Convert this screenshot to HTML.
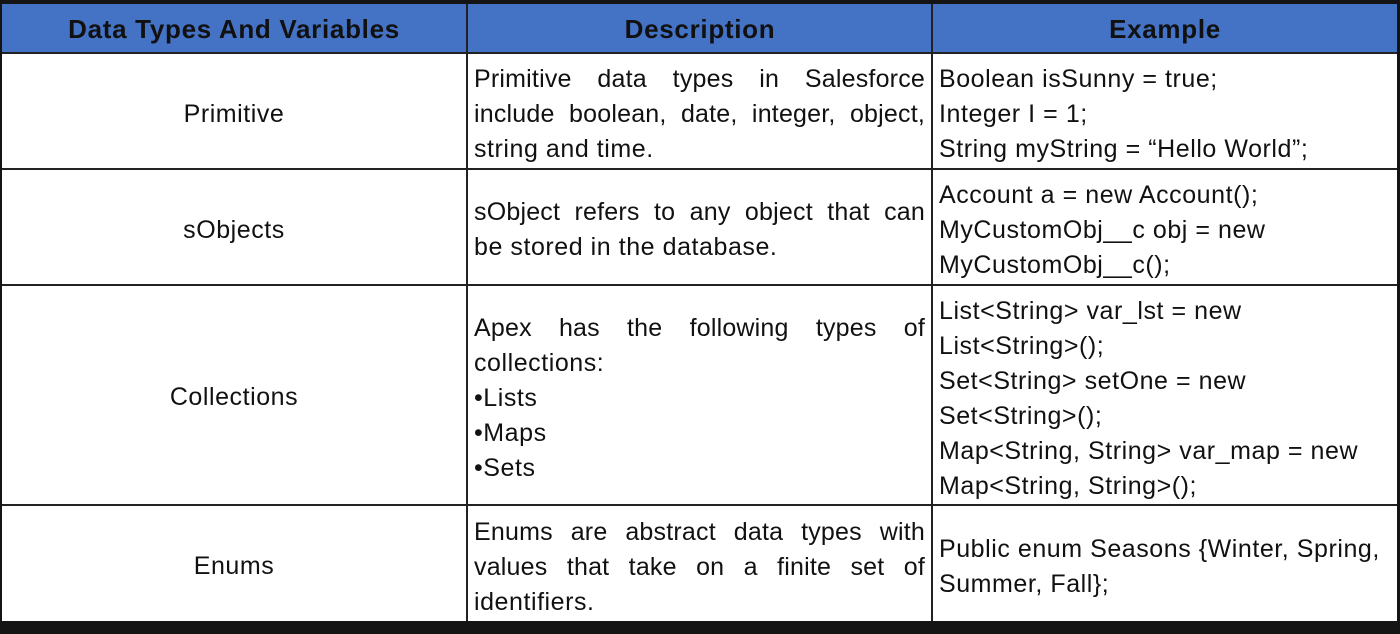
<!DOCTYPE html>
<html><head><meta charset="utf-8"><style>
*{margin:0;padding:0;box-sizing:border-box}
body{width:1400px;height:634px;background:#141414;position:relative;overflow:hidden;font-family:"Liberation Sans",Arial,sans-serif;color:#111}
#t{position:absolute;left:2px;top:4px;width:1395px;height:617px;background:#fff}
.hd{position:absolute;left:0;top:0;width:1395px;height:49px;background:#4472c4}
.h{position:absolute;top:1px;height:49px;line-height:49px;text-align:center;font-weight:bold;font-size:26px;letter-spacing:0.7px}
.hl{position:absolute;left:0;width:1395px;height:2px;background:#222}
.vl{position:absolute;top:0;width:2px;height:617px;background:#222}
.l{position:absolute;font-size:25px;line-height:35px;white-space:nowrap;letter-spacing:0.55px;margin-top:2px}
.c{text-align:center}
.j{text-align:justify;text-align-last:justify;letter-spacing:0.2px}
</style></head><body>
<div id="t">
<div class="hd"></div>
<div class="h" style="left:0;width:464px">Data Types And Variables</div>
<div class="h" style="left:466px;width:464px">Description</div>
<div class="h" style="left:931px;width:464px">Example</div>
<div class="hl" style="top:48px"></div>
<div class="hl" style="top:164px"></div>
<div class="hl" style="top:280px"></div>
<div class="hl" style="top:500px"></div>
<div class="vl" style="left:464px"></div>
<div class="vl" style="left:929px"></div>

<div class="l c" style="left:0;width:464px;top:91px">Primitive</div>
<div class="l c" style="left:0;width:464px;top:207px">sObjects</div>
<div class="l c" style="left:0;width:464px;top:374px">Collections</div>
<div class="l c" style="left:0;width:464px;top:543px">Enums</div>

<div class="l j" style="left:472px;width:451px;top:56px">Primitive data types in Salesforce</div>
<div class="l j" style="left:472px;width:451px;top:91px">include boolean, date, integer, object,</div>
<div class="l" style="left:472px;top:126px">string and time.</div>

<div class="l j" style="left:472px;width:451px;top:189px">sObject refers to any object that can</div>
<div class="l" style="left:472px;top:224px">be stored in the database.</div>

<div class="l j" style="left:472px;width:451px;top:305px">Apex has the following types of</div>
<div class="l" style="left:472px;top:340px">collections:</div>
<div class="l" style="left:472px;top:375px">•Lists</div>
<div class="l" style="left:472px;top:410px">•Maps</div>
<div class="l" style="left:472px;top:445px">•Sets</div>

<div class="l j" style="left:472px;width:451px;top:509px">Enums are abstract data types with</div>
<div class="l j" style="left:472px;width:451px;top:544px">values that take on a finite set of</div>
<div class="l" style="left:472px;top:579px">identifiers.</div>

<div class="l" style="left:937px;top:56px">Boolean isSunny = true;</div>
<div class="l" style="left:937px;top:91px">Integer I = 1;</div>
<div class="l" style="left:937px;top:126px">String myString = “Hello World”;</div>

<div class="l" style="left:937px;top:172px">Account a = new Account();</div>
<div class="l" style="left:937px;top:207px">MyCustomObj__c obj = new</div>
<div class="l" style="left:937px;top:242px">MyCustomObj__c();</div>

<div class="l" style="left:937px;top:288px">List&lt;String&gt; var_lst = new</div>
<div class="l" style="left:937px;top:323px">List&lt;String&gt;();</div>
<div class="l" style="left:937px;top:358px">Set&lt;String&gt; setOne = new</div>
<div class="l" style="left:937px;top:393px">Set&lt;String&gt;();</div>
<div class="l" style="left:937px;top:428px">Map&lt;String, String&gt; var_map = new</div>
<div class="l" style="left:937px;top:463px">Map&lt;String, String&gt;();</div>

<div class="l" style="left:937px;top:526px">Public enum Seasons {Winter, Spring,</div>
<div class="l" style="left:937px;top:561px">Summer, Fall};</div>
</div>
</body></html>
